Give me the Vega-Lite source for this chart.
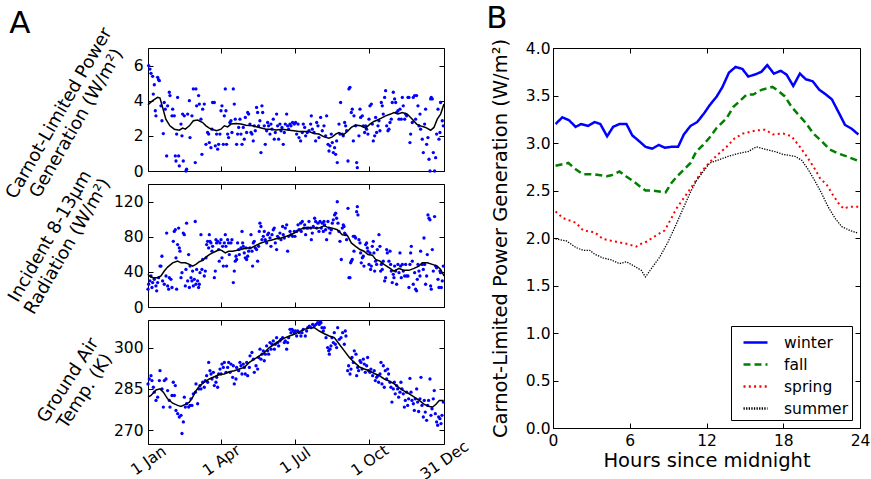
{
"$schema": "https://vega.github.io/schema/vega-lite/v6.json",
"background": "white",
"padding": {"left": 2, "top": 2, "right": 2, "bottom": 2},
"config": {
  "font": "DejaVu Sans",
  "view": {"stroke": "black", "strokeWidth": 1},
  "axis": {"grid": false, "domain": false, "ticks": true, "tickColor": "black", "tickSize": -5, "tickWidth": 1, "labelFont": "DejaVu Sans", "labelFontSize": 15.5, "labelColor": "black", "labelPadding": 10, "labelFlush": false, "labelOverlap": false, "titleFont": "DejaVu Sans", "titleFontWeight": "normal", "titleColor": "black"},
  "title": {"font": "DejaVu Sans", "fontSize": 31, "fontWeight": "normal", "anchor": "start", "frame": "bounds", "color": "black"},
  "legend": {"orient": "bottom-right", "offset": 8, "strokeColor": "black", "fillColor": "white", "padding": 3, "cornerRadius": 0, "labelFont": "DejaVu Sans", "labelFontSize": 15.5, "labelColor": "black", "symbolType": "stroke", "symbolSize": 576, "symbolStrokeWidth": 2.5, "rowPadding": 0, "labelOffset": 15, "symbolOffset": 8}
},
"datasets": {
"cDots": [{"d":0.8,"v":6.0},{"d":2.4,"v":5.8},{"d":3.7,"v":5.56},{"d":5.7,"v":5.39},{"d":6.5,"v":4.38},{"d":7.8,"v":4.91},{"d":9,"v":3.43},{"d":9.8,"v":3.14},{"d":11.9,"v":5.33},{"d":13,"v":5.2},{"d":14,"v":5.14},{"d":16,"v":3.71},{"d":17.2,"v":2.86},{"d":18.9,"v":2.13},{"d":20,"v":3.9},{"d":21.3,"v":3.52},{"d":23,"v":0.86},{"d":24.2,"v":3.71},{"d":26.3,"v":4.48},{"d":27.1,"v":4.29},{"d":29.6,"v":3.14},{"d":30.4,"v":3.52},{"d":32.4,"v":3.14},{"d":33.7,"v":0.86},{"d":34.5,"v":0.57},{"d":35.3,"v":2.1},{"d":36.5,"v":4.19},{"d":37.8,"v":0.86},{"d":38.6,"v":0.29},{"d":40.7,"v":2.67},{"d":41.9,"v":2.0},{"d":42.7,"v":3.24},{"d":43.5,"v":0.57},{"d":44.8,"v":3.14},{"d":46.8,"v":0.0},{"d":47.6,"v":0.1},{"d":48.9,"v":3.24},{"d":51,"v":4.0},{"d":51.8,"v":1.9},{"d":54.2,"v":3.14},{"d":55.9,"v":4.67},{"d":58.3,"v":0.48},{"d":59.1,"v":4.67},{"d":60,"v":3.71},{"d":62.4,"v":4.29},{"d":63.3,"v":3.81},{"d":65.3,"v":2.95},{"d":66.5,"v":0.95},{"d":67.4,"v":3.52},{"d":69.4,"v":3.81},{"d":71.5,"v":1.52},{"d":73.5,"v":2.19},{"d":74.8,"v":2.1},{"d":75.6,"v":1.62},{"d":77.6,"v":1.33},{"d":78.9,"v":2.38},{"d":79.7,"v":3.9},{"d":81.8,"v":3.9},{"d":83,"v":1.43},{"d":84.6,"v":2.1},{"d":85.9,"v":1.24},{"d":87.1,"v":1.52},{"d":88.7,"v":2.1},{"d":90,"v":3.43},{"d":91.2,"v":3.71},{"d":92.9,"v":1.52},{"d":94.1,"v":3.14},{"d":95.3,"v":4.67},{"d":96.1,"v":3.43},{"d":96.9,"v":1.52},{"d":98.2,"v":2.1},{"d":99.4,"v":1.9},{"d":101,"v":2.76},{"d":102.3,"v":2.86},{"d":103.5,"v":2.19},{"d":105.2,"v":4.67},{"d":106.4,"v":3.81},{"d":107.6,"v":2.95},{"d":109.3,"v":1.52},{"d":110.5,"v":2.1},{"d":111.8,"v":2.48},{"d":113.4,"v":2.95},{"d":114.6,"v":2.1},{"d":115.9,"v":1.52},{"d":117.5,"v":2.48},{"d":118.7,"v":1.81},{"d":120,"v":3.05},{"d":121.6,"v":2.19},{"d":122.9,"v":3.33},{"d":124.1,"v":3.24},{"d":125.7,"v":2.67},{"d":127,"v":2.19},{"d":128.2,"v":2.1},{"d":129.8,"v":1.71},{"d":131,"v":2.57},{"d":132.3,"v":2.29},{"d":133.9,"v":3.62},{"d":135.2,"v":3.33},{"d":136.4,"v":2.57},{"d":138,"v":2.86},{"d":139.3,"v":1.05},{"d":140.5,"v":3.71},{"d":141.4,"v":3.33},{"d":143.4,"v":2.57},{"d":144.6,"v":1.52},{"d":146.3,"v":2.29},{"d":147.5,"v":2.76},{"d":148.7,"v":2.57},{"d":150.4,"v":2.1},{"d":151.6,"v":2.67},{"d":152.9,"v":2.38},{"d":154.5,"v":2.95},{"d":155.7,"v":1.81},{"d":157,"v":2.19},{"d":158.6,"v":3.24},{"d":159.8,"v":2.57},{"d":161.1,"v":1.81},{"d":162.7,"v":2.67},{"d":164,"v":2.29},{"d":165.2,"v":2.48},{"d":166.8,"v":1.52},{"d":168.1,"v":2.19},{"d":169.3,"v":2.67},{"d":171,"v":3.24},{"d":172.2,"v":2.57},{"d":173.4,"v":2.38},{"d":175.1,"v":2.67},{"d":176.3,"v":2.57},{"d":178.3,"v":2.76},{"d":180.4,"v":2.67},{"d":182,"v":2.76},{"d":183.3,"v":2.1},{"d":185,"v":2.67},{"d":186.2,"v":1.9},{"d":188.2,"v":1.71},{"d":190.3,"v":2.19},{"d":191.5,"v":2.67},{"d":193.2,"v":2.48},{"d":194.4,"v":2.0},{"d":196.4,"v":2.19},{"d":198.5,"v":2.29},{"d":200.6,"v":2.67},{"d":201.4,"v":3.14},{"d":202.6,"v":2.38},{"d":204.7,"v":2.19},{"d":206.7,"v":1.71},{"d":208,"v":2.76},{"d":209.6,"v":2.57},{"d":210.8,"v":1.9},{"d":212.9,"v":3.05},{"d":214.9,"v":2.29},{"d":217,"v":2.57},{"d":219,"v":2.0},{"d":220.3,"v":3.14},{"d":222,"v":1.52},{"d":223.2,"v":1.14},{"d":224.4,"v":1.43},{"d":226,"v":2.1},{"d":227.3,"v":1.62},{"d":228.5,"v":1.05},{"d":230.1,"v":1.33},{"d":231.4,"v":0.95},{"d":232.6,"v":1.71},{"d":233.4,"v":0.48},{"d":235.5,"v":2.67},{"d":236.7,"v":2.1},{"d":237.5,"v":3.9},{"d":239.6,"v":2.1},{"d":240.8,"v":2.0},{"d":242.5,"v":2.76},{"d":243.7,"v":2.57},{"d":244.9,"v":2.29},{"d":246.6,"v":0.57},{"d":247.8,"v":4.67},{"d":249,"v":4.76},{"d":250.7,"v":3.33},{"d":251.9,"v":3.52},{"d":253.2,"v":1.71},{"d":254,"v":3.14},{"d":256,"v":2.57},{"d":257.3,"v":0.48},{"d":258.1,"v":0.19},{"d":260.1,"v":2.0},{"d":261.4,"v":3.52},{"d":262.2,"v":3.05},{"d":264.3,"v":3.14},{"d":265.5,"v":2.57},{"d":267.1,"v":2.19},{"d":268.4,"v":2.57},{"d":269.6,"v":2.38},{"d":271.2,"v":2.1},{"d":272.5,"v":2.95},{"d":273.7,"v":3.71},{"d":275.4,"v":3.81},{"d":276.6,"v":2.67},{"d":277.8,"v":1.71},{"d":279.5,"v":2.0},{"d":280.7,"v":3.05},{"d":281.9,"v":2.19},{"d":283.6,"v":2.57},{"d":284.8,"v":2.86},{"d":286,"v":2.29},{"d":287.7,"v":3.9},{"d":288.9,"v":3.71},{"d":290.1,"v":3.24},{"d":291.8,"v":4.19},{"d":293,"v":4.57},{"d":294.3,"v":2.57},{"d":295.9,"v":2.29},{"d":297.1,"v":2.38},{"d":298.4,"v":2.76},{"d":300,"v":2.95},{"d":301.2,"v":3.9},{"d":302.5,"v":4.48},{"d":304.1,"v":4.1},{"d":305.4,"v":3.9},{"d":306.6,"v":3.33},{"d":308.2,"v":3.43},{"d":309.5,"v":2.95},{"d":310.7,"v":3.52},{"d":312.3,"v":2.95},{"d":313.6,"v":4.19},{"d":314.8,"v":3.71},{"d":316.5,"v":2.95},{"d":317.7,"v":3.24},{"d":318.9,"v":3.14},{"d":320.6,"v":4.19},{"d":321.8,"v":4.19},{"d":323,"v":1.62},{"d":323.9,"v":2.1},{"d":325.9,"v":2.76},{"d":327.1,"v":4.19},{"d":328.8,"v":4.29},{"d":330,"v":2.95},{"d":331.2,"v":4.29},{"d":332.9,"v":3.71},{"d":334.1,"v":2.57},{"d":335.4,"v":3.24},{"d":336.2,"v":2.38},{"d":338.2,"v":1.81},{"d":339.5,"v":1.05},{"d":341.1,"v":2.67},{"d":342.3,"v":3.52},{"d":343.6,"v":1.52},{"d":345.2,"v":1.9},{"d":346.5,"v":0.67},{"d":347.7,"v":0.0},{"d":348.5,"v":4.1},{"d":349.3,"v":4.19},{"d":350.6,"v":4.1},{"d":351.8,"v":1.05},{"d":353.4,"v":0.0},{"d":354.7,"v":0.76},{"d":355.9,"v":2.1},{"d":357.6,"v":3.52},{"d":358.8,"v":1.81},{"d":360,"v":2.19},{"d":360.8,"v":3.9},{"d":362.9,"v":2.86},{"d":364.1,"v":2.57}],
"cAvg": [{"d":0,"v":3.77},{"d":0.8,"v":3.81},{"d":5.7,"v":4.0},{"d":11.9,"v":4.19},{"d":14.8,"v":4.15},{"d":18,"v":3.62},{"d":22,"v":2.95},{"d":27,"v":2.57},{"d":32.4,"v":2.38},{"d":38.6,"v":2.32},{"d":42.7,"v":2.44},{"d":46,"v":2.38},{"d":51,"v":2.57},{"d":55.9,"v":2.86},{"d":61.2,"v":2.9},{"d":67.4,"v":2.76},{"d":71.5,"v":2.57},{"d":75.6,"v":2.44},{"d":79.7,"v":2.36},{"d":84.6,"v":2.29},{"d":90,"v":2.38},{"d":94.1,"v":2.57},{"d":98.2,"v":2.51},{"d":102.3,"v":2.67},{"d":108.5,"v":2.7},{"d":114.6,"v":2.67},{"d":120.8,"v":2.61},{"d":129,"v":2.57},{"d":137.2,"v":2.48},{"d":145.5,"v":2.38},{"d":151.6,"v":2.38},{"d":157.8,"v":2.34},{"d":166,"v":2.38},{"d":174.2,"v":2.32},{"d":180,"v":2.29},{"d":186.2,"v":2.25},{"d":192.3,"v":2.25},{"d":198.5,"v":2.25},{"d":204.7,"v":2.13},{"d":210.8,"v":2.1},{"d":217,"v":1.94},{"d":223.2,"v":1.87},{"d":227.3,"v":1.94},{"d":231.4,"v":2.1},{"d":235.5,"v":2.19},{"d":240.8,"v":2.06},{"d":245.8,"v":2.25},{"d":250.7,"v":2.48},{"d":256,"v":2.61},{"d":262.2,"v":2.57},{"d":268.4,"v":2.44},{"d":273.7,"v":2.67},{"d":278.6,"v":2.82},{"d":282.8,"v":2.9},{"d":287.7,"v":3.01},{"d":293,"v":3.14},{"d":299.2,"v":3.24},{"d":303.3,"v":3.33},{"d":308.2,"v":3.24},{"d":313.6,"v":3.33},{"d":319.7,"v":3.24},{"d":325.9,"v":2.95},{"d":331.2,"v":2.67},{"d":336.2,"v":2.57},{"d":342.3,"v":2.48},{"d":348.5,"v":2.32},{"d":352.6,"v":2.48},{"d":356.7,"v":2.95},{"d":360.8,"v":3.24},{"d":365,"v":3.81}],
"rDots": [{"d":0,"v":20.3},{"d":0.8,"v":25.9},{"d":2.4,"v":29.7},{"d":3.7,"v":35.3},{"d":4.9,"v":22.2},{"d":5.7,"v":27.8},{"d":7.8,"v":31.5},{"d":9.8,"v":24},{"d":10.7,"v":18.4},{"d":11.9,"v":27.8},{"d":13.1,"v":33.4},{"d":14.8,"v":46.6},{"d":16,"v":46.6},{"d":17.2,"v":57.8},{"d":18,"v":29.7},{"d":20.1,"v":25.9},{"d":22.2,"v":35.3},{"d":23,"v":84.1},{"d":24.2,"v":24},{"d":25.5,"v":20.3},{"d":26.3,"v":33.4},{"d":28.3,"v":31.5},{"d":29.6,"v":22.2},{"d":31.2,"v":74.7},{"d":32.4,"v":86},{"d":33.7,"v":87.9},{"d":34.5,"v":56},{"d":35.3,"v":20.3},{"d":36.5,"v":71},{"d":37.8,"v":89.8},{"d":38.6,"v":67.2},{"d":39.4,"v":63.5},{"d":40.7,"v":33.4},{"d":41.9,"v":39.1},{"d":43.5,"v":84.1},{"d":44.8,"v":82.3},{"d":46,"v":24},{"d":46.8,"v":42.8},{"d":47.6,"v":95.4},{"d":48.9,"v":29.7},{"d":50.1,"v":59.7},{"d":51,"v":22.2},{"d":51.8,"v":46.6},{"d":53,"v":33.4},{"d":54.2,"v":29.7},{"d":55,"v":40.9},{"d":55.9,"v":24},{"d":57.1,"v":31.5},{"d":58.3,"v":97.3},{"d":59.1,"v":25.9},{"d":60,"v":42.8},{"d":61.2,"v":29.7},{"d":62.4,"v":22.2},{"d":63.3,"v":25.9},{"d":64.1,"v":39.1},{"d":65.3,"v":82.3},{"d":66.5,"v":42.8},{"d":67.4,"v":54.1},{"d":69.4,"v":35.3},{"d":70.7,"v":40.9},{"d":71.5,"v":56},{"d":72.3,"v":71},{"d":73.5,"v":74.7},{"d":74.8,"v":67.2},{"d":75.6,"v":82.3},{"d":76.4,"v":74.7},{"d":77.6,"v":72.9},{"d":78.9,"v":63.5},{"d":79.7,"v":69.1},{"d":81.8,"v":33.4},{"d":83,"v":40.9},{"d":83.8,"v":76.6},{"d":84.6,"v":72.9},{"d":85.9,"v":74.7},{"d":87.1,"v":65.4},{"d":87.9,"v":52.2},{"d":88.7,"v":72.9},{"d":90,"v":76.6},{"d":91.2,"v":56},{"d":92,"v":69.1},{"d":92.9,"v":46.6},{"d":94.1,"v":72.9},{"d":95.3,"v":82.3},{"d":96.1,"v":69.1},{"d":96.9,"v":46.6},{"d":98.2,"v":76.6},{"d":99.4,"v":72.9},{"d":100.3,"v":59.7},{"d":102.3,"v":72.9},{"d":103.5,"v":76.6},{"d":105.2,"v":27.8},{"d":106.4,"v":40.9},{"d":107.6,"v":52.2},{"d":108.5,"v":57.8},{"d":109.3,"v":54.1},{"d":110.5,"v":72.9},{"d":111.8,"v":65.4},{"d":112.6,"v":59.7},{"d":114.6,"v":67.2},{"d":115.9,"v":86},{"d":116.7,"v":72.9},{"d":117.5,"v":69.1},{"d":118.7,"v":61.6},{"d":120,"v":56},{"d":120.8,"v":67.2},{"d":121.6,"v":54.1},{"d":122.9,"v":57.8},{"d":124.1,"v":63.5},{"d":125.7,"v":67.2},{"d":127,"v":82.3},{"d":128.2,"v":63.5},{"d":129,"v":46.6},{"d":129.8,"v":72.9},{"d":131,"v":74.7},{"d":132.3,"v":67.2},{"d":133.9,"v":65.4},{"d":135.2,"v":52.2},{"d":136.4,"v":69.1},{"d":137.2,"v":86},{"d":138,"v":95.4},{"d":139.3,"v":91.6},{"d":140.5,"v":76.6},{"d":142.2,"v":80.4},{"d":143.4,"v":86},{"d":144.6,"v":76.6},{"d":146.3,"v":72.9},{"d":147.5,"v":82.3},{"d":148.7,"v":84.1},{"d":150.4,"v":78.5},{"d":151.6,"v":69.1},{"d":152.9,"v":82.3},{"d":154.5,"v":87.9},{"d":155.7,"v":89.8},{"d":157,"v":72.9},{"d":158.6,"v":65.4},{"d":159.8,"v":80.4},{"d":161.1,"v":78.5},{"d":162.7,"v":84.1},{"d":164,"v":76.6},{"d":166,"v":91.6},{"d":166.8,"v":82.3},{"d":168.1,"v":78.5},{"d":169.3,"v":89.8},{"d":171,"v":93.5},{"d":172.2,"v":63.5},{"d":173.4,"v":80.4},{"d":175.1,"v":86},{"d":176.3,"v":82.3},{"d":178.3,"v":80.4},{"d":180.4,"v":86},{"d":181.2,"v":80.4},{"d":183.3,"v":86},{"d":185,"v":93.5},{"d":186.2,"v":87.9},{"d":188.2,"v":95.4},{"d":189,"v":86},{"d":190.3,"v":97.3},{"d":192.3,"v":89.8},{"d":193.2,"v":93.5},{"d":194.4,"v":82.3},{"d":195.6,"v":89.8},{"d":197.3,"v":89.8},{"d":198.5,"v":97.3},{"d":200.6,"v":89.8},{"d":201.4,"v":76.6},{"d":202.6,"v":84.1},{"d":203.8,"v":91.6},{"d":205.5,"v":101},{"d":206.7,"v":97.3},{"d":208,"v":89.8},{"d":209.6,"v":95.4},{"d":210.8,"v":86},{"d":212.1,"v":97.3},{"d":213.7,"v":89.8},{"d":214.9,"v":95.4},{"d":216.2,"v":86},{"d":217,"v":97.3},{"d":217.8,"v":93.5},{"d":219,"v":87.9},{"d":220.3,"v":76.6},{"d":221.9,"v":97.3},{"d":223.2,"v":89.8},{"d":224.4,"v":84.1},{"d":226,"v":87.9},{"d":227.3,"v":95.4},{"d":228.5,"v":99.2},{"d":230.1,"v":104.8},{"d":231.4,"v":106.7},{"d":232.6,"v":101},{"d":233.4,"v":119.8},{"d":234.3,"v":95.4},{"d":235.5,"v":86},{"d":236.7,"v":74.7},{"d":238.4,"v":54.1},{"d":239.6,"v":89.8},{"d":240.8,"v":93.5},{"d":241.7,"v":91.6},{"d":242.5,"v":84.1},{"d":243.7,"v":82.3},{"d":244.9,"v":76.6},{"d":246.6,"v":112.3},{"d":247.8,"v":33.4},{"d":249,"v":33.4},{"d":249.9,"v":50.3},{"d":250.7,"v":52.2},{"d":251.9,"v":54.1},{"d":253.2,"v":80.4},{"d":254,"v":63.5},{"d":254.8,"v":80.4},{"d":256,"v":78.5},{"d":257.3,"v":108.5},{"d":258.1,"v":114.2},{"d":258.9,"v":104.8},{"d":260.1,"v":76.6},{"d":261.4,"v":72.9},{"d":262.2,"v":61.6},{"d":263,"v":50.3},{"d":264.3,"v":56},{"d":265.5,"v":57.8},{"d":266.3,"v":46.6},{"d":268.4,"v":71},{"d":269.6,"v":72.9},{"d":270.4,"v":67.2},{"d":271.2,"v":63.5},{"d":272.5,"v":48.5},{"d":273.7,"v":61.6},{"d":274.5,"v":42.8},{"d":275.4,"v":46.6},{"d":276.6,"v":69.1},{"d":277.8,"v":74.7},{"d":278.6,"v":61.6},{"d":279.5,"v":40.9},{"d":280.7,"v":52.2},{"d":281.9,"v":48.5},{"d":282.8,"v":65.4},{"d":284.8,"v":82.3},{"d":286,"v":69.1},{"d":286.9,"v":40.9},{"d":287.7,"v":48.5},{"d":288.9,"v":42.8},{"d":290.1,"v":52.2},{"d":291.8,"v":29.7},{"d":293,"v":33.4},{"d":294.3,"v":65.4},{"d":295.1,"v":61.6},{"d":297.1,"v":52.2},{"d":298.4,"v":63.5},{"d":299.2,"v":48.5},{"d":300,"v":40.9},{"d":301.2,"v":27.8},{"d":302.5,"v":37.2},{"d":303.3,"v":33.4},{"d":304.1,"v":46.6},{"d":305.4,"v":40.9},{"d":306.6,"v":25.9},{"d":308.2,"v":48.5},{"d":309.5,"v":39.1},{"d":310.7,"v":61.6},{"d":311.5,"v":46.6},{"d":312.3,"v":33.4},{"d":313.6,"v":48.5},{"d":314.8,"v":40.9},{"d":316.5,"v":35.3},{"d":317.7,"v":48.5},{"d":318.9,"v":35.3},{"d":320.6,"v":35.3},{"d":321.8,"v":22.2},{"d":323,"v":48.5},{"d":323.9,"v":61.6},{"d":324.7,"v":69.1},{"d":325.9,"v":52.2},{"d":327.1,"v":25.9},{"d":328.8,"v":39.1},{"d":330,"v":20.3},{"d":331.2,"v":18.4},{"d":332.1,"v":31.5},{"d":332.9,"v":48.5},{"d":334.1,"v":40.9},{"d":335.4,"v":35.3},{"d":336.2,"v":63.5},{"d":338.2,"v":48.5},{"d":339.5,"v":42.8},{"d":340.3,"v":78.5},{"d":341.1,"v":48.5},{"d":342.3,"v":25.9},{"d":343.6,"v":35.3},{"d":344.4,"v":59.7},{"d":345.2,"v":104.8},{"d":346.5,"v":101},{"d":347.7,"v":99.2},{"d":348.5,"v":24},{"d":349.3,"v":20.3},{"d":350.6,"v":65.4},{"d":351.8,"v":40.9},{"d":353.4,"v":102.9},{"d":354.7,"v":46.6},{"d":355.9,"v":44.7},{"d":357.6,"v":31.5},{"d":358.8,"v":22.2},{"d":360,"v":40.9},{"d":360.8,"v":39.1},{"d":361.7,"v":22.2},{"d":362.9,"v":29.7},{"d":364.1,"v":46.6}],
"rAvg": [{"d":0,"v":37.2},{"d":1.6,"v":35.3},{"d":5.7,"v":33.4},{"d":11.9,"v":33.4},{"d":16,"v":35.3},{"d":20.1,"v":40.9},{"d":24.2,"v":45.4},{"d":30.4,"v":50.3},{"d":36.5,"v":52.2},{"d":40.7,"v":50.3},{"d":46,"v":50.3},{"d":51,"v":48.5},{"d":55,"v":46.6},{"d":59.1,"v":48.5},{"d":63.3,"v":51.5},{"d":67.4,"v":53},{"d":71.5,"v":56.7},{"d":75.6,"v":59.7},{"d":79.7,"v":61.6},{"d":83.8,"v":63.5},{"d":87.9,"v":65.4},{"d":91.2,"v":64.2},{"d":95.3,"v":61.6},{"d":99.4,"v":63.5},{"d":104.4,"v":63.5},{"d":108.5,"v":64.2},{"d":114.6,"v":65.4},{"d":120.8,"v":67.2},{"d":127,"v":67.2},{"d":133.1,"v":70.2},{"d":139.3,"v":72.9},{"d":145.5,"v":74.7},{"d":151.6,"v":75.9},{"d":157.8,"v":77.7},{"d":164,"v":78.5},{"d":170.1,"v":80.4},{"d":176.3,"v":82.3},{"d":182.5,"v":85.3},{"d":186.2,"v":87.9},{"d":192.3,"v":89.8},{"d":198.5,"v":90.5},{"d":204.7,"v":89.8},{"d":210.8,"v":89.8},{"d":217,"v":92.4},{"d":221.1,"v":90.9},{"d":227.3,"v":89.8},{"d":233.4,"v":87.9},{"d":239.6,"v":82.3},{"d":245.8,"v":81.5},{"d":250.7,"v":72.9},{"d":256,"v":69.1},{"d":261.4,"v":65.4},{"d":266.3,"v":63.5},{"d":271.2,"v":59.7},{"d":276.6,"v":59},{"d":280.7,"v":54.1},{"d":286,"v":52.2},{"d":291,"v":48.5},{"d":297.1,"v":44.7},{"d":303.3,"v":40.9},{"d":309.5,"v":43.9},{"d":315.6,"v":41.7},{"d":321.8,"v":41.7},{"d":328,"v":43.9},{"d":334.1,"v":46.6},{"d":338.2,"v":50.3},{"d":344.4,"v":50.3},{"d":350.6,"v":48.5},{"d":356.7,"v":46.6},{"d":360.8,"v":42.8},{"d":365,"v":35.3}],
"tDots": [{"d":0,"v":286.8},{"d":1.6,"v":288.6},{"d":3.7,"v":289.8},{"d":4.9,"v":288},{"d":6.6,"v":285.6},{"d":7.8,"v":283.8},{"d":9.9,"v":280.8},{"d":11.9,"v":282},{"d":14,"v":288},{"d":14.8,"v":291.6},{"d":17.3,"v":285},{"d":18.9,"v":278.4},{"d":20.1,"v":288},{"d":22.2,"v":288.6},{"d":24.2,"v":284.4},{"d":26.3,"v":280.8},{"d":27.1,"v":278.4},{"d":29.6,"v":282.6},{"d":31.2,"v":287.4},{"d":32.5,"v":282.6},{"d":33.7,"v":286.2},{"d":34.5,"v":277.2},{"d":36.6,"v":276},{"d":38.6,"v":274.8},{"d":40.7,"v":275.4},{"d":41.9,"v":268.8},{"d":43.6,"v":273},{"d":44.8,"v":282},{"d":46,"v":278.4},{"d":47.7,"v":279.6},{"d":50.1,"v":278.4},{"d":51.8,"v":279},{"d":53,"v":281.4},{"d":54.2,"v":279},{"d":55.9,"v":283.2},{"d":58.4,"v":283.8},{"d":59.2,"v":286.8},{"d":61.2,"v":279.6},{"d":62.5,"v":285},{"d":64.1,"v":286.2},{"d":65.3,"v":285},{"d":67.4,"v":287.4},{"d":69.4,"v":285.6},{"d":70.7,"v":288},{"d":72.3,"v":289.8},{"d":73.6,"v":287.4},{"d":74.8,"v":294.6},{"d":76.4,"v":291.6},{"d":77.7,"v":290.4},{"d":78.9,"v":288.6},{"d":80.6,"v":291},{"d":81.8,"v":286.2},{"d":83.8,"v":287.4},{"d":84.7,"v":289.2},{"d":85.9,"v":285.6},{"d":87.1,"v":290.4},{"d":88.8,"v":292.2},{"d":90,"v":290.4},{"d":91.2,"v":294},{"d":92.9,"v":292.8},{"d":94.1,"v":294.6},{"d":96.2,"v":291},{"d":98.2,"v":292.8},{"d":99.5,"v":294.6},{"d":101.1,"v":291},{"d":102.3,"v":294},{"d":104.4,"v":289.2},{"d":105.2,"v":293.4},{"d":106.4,"v":286.8},{"d":108.5,"v":288.6},{"d":109.3,"v":292.8},{"d":111.8,"v":291.6},{"d":113.4,"v":294.6},{"d":114.7,"v":293.4},{"d":115.9,"v":290.4},{"d":117.5,"v":294},{"d":118.8,"v":292.8},{"d":120,"v":290.4},{"d":121.7,"v":294.6},{"d":122.9,"v":289.8},{"d":125,"v":292.8},{"d":125.8,"v":297},{"d":128.2,"v":298.2},{"d":129.9,"v":295.8},{"d":131.1,"v":291},{"d":133.2,"v":293.4},{"d":135.2,"v":292.2},{"d":136.4,"v":296.4},{"d":138.1,"v":299.4},{"d":139.3,"v":295.8},{"d":140.6,"v":297.6},{"d":142.2,"v":298.8},{"d":143.4,"v":295.2},{"d":144.7,"v":297.6},{"d":146.3,"v":300.6},{"d":147.5,"v":298.8},{"d":148.8,"v":297.6},{"d":150.4,"v":301.8},{"d":151.7,"v":299.4},{"d":152.9,"v":301.2},{"d":154.5,"v":302.4},{"d":155.8,"v":299.4},{"d":157,"v":301.2},{"d":158.6,"v":303.6},{"d":159.9,"v":301.8},{"d":161.1,"v":300.6},{"d":162.7,"v":302.4},{"d":164,"v":303},{"d":166,"v":303.6},{"d":168.1,"v":301.8},{"d":169.3,"v":302.4},{"d":171,"v":299.4},{"d":172.2,"v":301.8},{"d":173.4,"v":303.6},{"d":175.1,"v":306.6},{"d":176.3,"v":305.4},{"d":177.6,"v":306.6},{"d":179.2,"v":306},{"d":180.4,"v":305.4},{"d":181.7,"v":306},{"d":183.3,"v":304.2},{"d":184.5,"v":306},{"d":186.6,"v":305.4},{"d":188.6,"v":304.2},{"d":189.9,"v":305.4},{"d":191.5,"v":306.6},{"d":194,"v":304.2},{"d":195.6,"v":306},{"d":196.9,"v":307.2},{"d":198.9,"v":307.8},{"d":201,"v":307.2},{"d":203,"v":308.4},{"d":205.1,"v":307.8},{"d":207.1,"v":308.4},{"d":209.2,"v":309},{"d":211.2,"v":308.4},{"d":212.1,"v":309.4},{"d":213.3,"v":309},{"d":214.5,"v":307.2},{"d":216.2,"v":306},{"d":217.4,"v":307.2},{"d":219.5,"v":303.6},{"d":221.5,"v":300},{"d":222.8,"v":298.8},{"d":223.6,"v":297.6},{"d":224.4,"v":299.4},{"d":225.6,"v":300.6},{"d":226.9,"v":303.6},{"d":228.5,"v":301.8},{"d":229.7,"v":305.4},{"d":231,"v":301.2},{"d":232.6,"v":300},{"d":233.9,"v":307.2},{"d":235.9,"v":303},{"d":238,"v":303.6},{"d":240,"v":305.4},{"d":242.1,"v":301.2},{"d":243.3,"v":306},{"d":244.1,"v":304.2},{"d":246.2,"v":291.6},{"d":247.4,"v":293.4},{"d":249.1,"v":290.4},{"d":250.3,"v":292.2},{"d":251.5,"v":296.4},{"d":253.2,"v":294.6},{"d":254.4,"v":298.8},{"d":256.5,"v":297.6},{"d":257.3,"v":289.8},{"d":258.5,"v":292.8},{"d":259.7,"v":291.6},{"d":261.4,"v":295.2},{"d":262.6,"v":294.6},{"d":263.9,"v":292.2},{"d":265.5,"v":295.8},{"d":266.7,"v":294},{"d":268,"v":291},{"d":269.6,"v":293.4},{"d":270.8,"v":296.4},{"d":272.1,"v":291.6},{"d":273.7,"v":291},{"d":274.9,"v":292.2},{"d":277,"v":289.8},{"d":279,"v":291.6},{"d":280.3,"v":288},{"d":281.9,"v":289.2},{"d":283.2,"v":289.8},{"d":284.4,"v":287.4},{"d":286.1,"v":290.4},{"d":287.3,"v":294.6},{"d":288.5,"v":286.8},{"d":290.2,"v":293.4},{"d":291.4,"v":285.6},{"d":292.6,"v":291.6},{"d":294.3,"v":288.6},{"d":295.5,"v":292.2},{"d":296.7,"v":290.4},{"d":298.4,"v":287.4},{"d":299.6,"v":285.6},{"d":300.8,"v":280.2},{"d":302.5,"v":285},{"d":303.7,"v":287.4},{"d":304.9,"v":283.2},{"d":306.6,"v":286.2},{"d":307.8,"v":285},{"d":309.1,"v":282},{"d":310.7,"v":283.8},{"d":311.9,"v":287.4},{"d":313.2,"v":285},{"d":314.8,"v":283.2},{"d":316.1,"v":278.4},{"d":317.3,"v":280.8},{"d":318.9,"v":283.8},{"d":320.2,"v":279},{"d":321.4,"v":281.4},{"d":323,"v":288.8},{"d":324.3,"v":283.8},{"d":325.5,"v":280.8},{"d":327.2,"v":279.6},{"d":328.4,"v":277.2},{"d":329.6,"v":281.4},{"d":331.3,"v":285},{"d":332.5,"v":280.2},{"d":333.7,"v":276.8},{"d":335.4,"v":281.4},{"d":336.6,"v":289.2},{"d":337.8,"v":279},{"d":339.5,"v":274.8},{"d":340.7,"v":280.8},{"d":341.9,"v":276.6},{"d":343.6,"v":273.6},{"d":344.8,"v":279},{"d":346,"v":280.8},{"d":347.7,"v":288.6},{"d":348.9,"v":275.4},{"d":350.2,"v":277.8},{"d":351.8,"v":281.4},{"d":353,"v":284.4},{"d":354.3,"v":276},{"d":355.9,"v":273},{"d":357.2,"v":271.8},{"d":358.4,"v":274.8},{"d":360,"v":274.2},{"d":361.3,"v":272.4},{"d":362.5,"v":275.4},{"d":364.1,"v":280.2}],
"tAvg": [{"d":0,"v":282},{"d":3.7,"v":282.6},{"d":9.9,"v":284.6},{"d":14.8,"v":285},{"d":18.9,"v":283.8},{"d":24.2,"v":281.4},{"d":30.4,"v":279.8},{"d":36.6,"v":279},{"d":40.7,"v":278.6},{"d":46,"v":279.4},{"d":51,"v":280.2},{"d":55.1,"v":282},{"d":59.2,"v":284.4},{"d":64.1,"v":286.2},{"d":69.4,"v":287.4},{"d":75.6,"v":288.6},{"d":81.8,"v":289.4},{"d":87.9,"v":290.2},{"d":94.1,"v":290.4},{"d":100.3,"v":291.2},{"d":106.4,"v":291.6},{"d":112.6,"v":292.2},{"d":118.8,"v":292.8},{"d":125,"v":294.6},{"d":131.1,"v":295.8},{"d":137.3,"v":297},{"d":143.4,"v":298.2},{"d":149.6,"v":300},{"d":155.8,"v":301.2},{"d":161.9,"v":302.4},{"d":168.1,"v":303.4},{"d":174.3,"v":304.2},{"d":180.4,"v":304.8},{"d":186.6,"v":305.8},{"d":192.8,"v":306.6},{"d":198.9,"v":307.2},{"d":205.1,"v":307.2},{"d":211.2,"v":306},{"d":217.4,"v":305},{"d":223.6,"v":304.2},{"d":229.7,"v":303.6},{"d":235.9,"v":301.2},{"d":242.1,"v":298.8},{"d":248.3,"v":296.4},{"d":254.4,"v":294.6},{"d":260.6,"v":293},{"d":266.7,"v":292.2},{"d":272.9,"v":291.6},{"d":279.1,"v":290.6},{"d":285.2,"v":289.8},{"d":291.4,"v":288.6},{"d":297.5,"v":287.8},{"d":303.7,"v":286.8},{"d":309.9,"v":285.4},{"d":316.1,"v":284.2},{"d":322.2,"v":283.2},{"d":328.4,"v":282},{"d":334.5,"v":280.8},{"d":340.7,"v":279.4},{"d":346.9,"v":278.6},{"d":351,"v":278.4},{"d":355.1,"v":279.4},{"d":359.2,"v":280.8},{"d":364.5,"v":280.8}],
"daily": [{"s":"winter","h":0.2,"v":3.2},{"s":"winter","h":0.73,"v":3.27},{"s":"winter","h":1.25,"v":3.24},{"s":"winter","h":1.77,"v":3.17},{"s":"winter","h":2.2,"v":3.2},{"s":"winter","h":2.74,"v":3.18},{"s":"winter","h":3.26,"v":3.22},{"s":"winter","h":3.7,"v":3.2},{"s":"winter","h":4.23,"v":3.07},{"s":"winter","h":4.7,"v":3.17},{"s":"winter","h":5.2,"v":3.2},{"s":"winter","h":5.74,"v":3.2},{"s":"winter","h":6.2,"v":3.08},{"s":"winter","h":6.73,"v":3.02},{"s":"winter","h":7.23,"v":2.96},{"s":"winter","h":7.75,"v":2.94},{"s":"winter","h":8.27,"v":2.98},{"s":"winter","h":8.74,"v":2.95},{"s":"winter","h":9.26,"v":2.96},{"s":"winter","h":9.78,"v":2.96},{"s":"winter","h":10.23,"v":3.09},{"s":"winter","h":10.75,"v":3.18},{"s":"winter","h":11.27,"v":3.22},{"s":"winter","h":11.8,"v":3.31},{"s":"winter","h":12.26,"v":3.4},{"s":"winter","h":12.8,"v":3.49},{"s":"winter","h":13.25,"v":3.59},{"s":"winter","h":13.75,"v":3.74},{"s":"winter","h":14.27,"v":3.8},{"s":"winter","h":14.8,"v":3.78},{"s":"winter","h":15.26,"v":3.7},{"s":"winter","h":15.78,"v":3.72},{"s":"winter","h":16.3,"v":3.75},{"s":"winter","h":16.75,"v":3.82},{"s":"winter","h":17.27,"v":3.73},{"s":"winter","h":17.8,"v":3.76},{"s":"winter","h":18.26,"v":3.72},{"s":"winter","h":18.78,"v":3.6},{"s":"winter","h":19.3,"v":3.73},{"s":"winter","h":19.77,"v":3.67},{"s":"winter","h":20.3,"v":3.65},{"s":"winter","h":20.82,"v":3.56},{"s":"winter","h":21.34,"v":3.51},{"s":"winter","h":21.8,"v":3.46},{"s":"winter","h":22.3,"v":3.33},{"s":"winter","h":22.83,"v":3.19},{"s":"winter","h":23.35,"v":3.15},{"s":"winter","h":23.87,"v":3.09},
{"s":"fall","h":0.2,"v":2.76},{"s":"fall","h":1.2,"v":2.79},{"s":"fall","h":1.8,"v":2.72},{"s":"fall","h":2.35,"v":2.67},{"s":"fall","h":3.26,"v":2.67},{"s":"fall","h":4.2,"v":2.65},{"s":"fall","h":4.56,"v":2.66},{"s":"fall","h":5.2,"v":2.7},{"s":"fall","h":5.7,"v":2.65},{"s":"fall","h":6.26,"v":2.6},{"s":"fall","h":6.73,"v":2.55},{"s":"fall","h":7.23,"v":2.5},{"s":"fall","h":7.8,"v":2.5},{"s":"fall","h":8.8,"v":2.48},{"s":"fall","h":9.26,"v":2.58},{"s":"fall","h":9.78,"v":2.66},{"s":"fall","h":10.3,"v":2.73},{"s":"fall","h":10.75,"v":2.79},{"s":"fall","h":11.2,"v":2.91},{"s":"fall","h":11.74,"v":2.98},{"s":"fall","h":12.26,"v":3.06},{"s":"fall","h":12.8,"v":3.16},{"s":"fall","h":13.57,"v":3.26},{"s":"fall","h":14.1,"v":3.38},{"s":"fall","h":14.6,"v":3.44},{"s":"fall","h":15.13,"v":3.51},{"s":"fall","h":15.65,"v":3.51},{"s":"fall","h":16.3,"v":3.56},{"s":"fall","h":17.16,"v":3.59},{"s":"fall","h":17.6,"v":3.55},{"s":"fall","h":18.13,"v":3.49},{"s":"fall","h":18.65,"v":3.38},{"s":"fall","h":19.17,"v":3.3},{"s":"fall","h":19.77,"v":3.21},{"s":"fall","h":20.35,"v":3.1},{"s":"fall","h":21.0,"v":3.02},{"s":"fall","h":21.65,"v":2.93},{"s":"fall","h":22.3,"v":2.89},{"s":"fall","h":22.96,"v":2.86},{"s":"fall","h":23.87,"v":2.81},
{"s":"spring","h":0.2,"v":2.28},{"s":"spring","h":0.78,"v":2.21},{"s":"spring","h":1.8,"v":2.16},{"s":"spring","h":2.35,"v":2.08},{"s":"spring","h":3.26,"v":2.06},{"s":"spring","h":3.9,"v":1.99},{"s":"spring","h":4.56,"v":1.97},{"s":"spring","h":4.95,"v":1.96},{"s":"spring","h":5.74,"v":1.94},{"s":"spring","h":6.5,"v":1.91},{"s":"spring","h":6.9,"v":1.94},{"s":"spring","h":7.3,"v":1.96},{"s":"spring","h":8.1,"v":2.03},{"s":"spring","h":8.74,"v":2.08},{"s":"spring","h":9.26,"v":2.21},{"s":"spring","h":9.65,"v":2.31},{"s":"spring","h":10.17,"v":2.41},{"s":"spring","h":10.7,"v":2.51},{"s":"spring","h":11.2,"v":2.61},{"s":"spring","h":11.74,"v":2.72},{"s":"spring","h":12.26,"v":2.8},{"s":"spring","h":12.9,"v":2.88},{"s":"spring","h":13.57,"v":2.96},{"s":"spring","h":14.2,"v":3.05},{"s":"spring","h":14.87,"v":3.1},{"s":"spring","h":15.78,"v":3.13},{"s":"spring","h":16.57,"v":3.14},{"s":"spring","h":17.2,"v":3.09},{"s":"spring","h":18.0,"v":3.1},{"s":"spring","h":18.65,"v":3.07},{"s":"spring","h":19.3,"v":2.96},{"s":"spring","h":19.83,"v":2.86},{"s":"spring","h":20.5,"v":2.72},{"s":"spring","h":20.87,"v":2.63},{"s":"spring","h":21.4,"v":2.56},{"s":"spring","h":21.9,"v":2.45},{"s":"spring","h":22.3,"v":2.37},{"s":"spring","h":22.7,"v":2.31},{"s":"spring","h":23.2,"v":2.33},{"s":"spring","h":23.87,"v":2.33},
{"s":"summer","h":0.2,"v":1.99},{"s":"summer","h":1.04,"v":1.97},{"s":"summer","h":1.8,"v":1.9},{"s":"summer","h":2.35,"v":1.87},{"s":"summer","h":2.87,"v":1.87},{"s":"summer","h":3.26,"v":1.83},{"s":"summer","h":3.9,"v":1.79},{"s":"summer","h":4.56,"v":1.77},{"s":"summer","h":5.2,"v":1.73},{"s":"summer","h":5.74,"v":1.75},{"s":"summer","h":6.4,"v":1.7},{"s":"summer","h":6.9,"v":1.66},{"s":"summer","h":7.23,"v":1.59},{"s":"summer","h":7.7,"v":1.68},{"s":"summer","h":8.35,"v":1.8},{"s":"summer","h":9.0,"v":1.96},{"s":"summer","h":9.65,"v":2.15},{"s":"summer","h":10.17,"v":2.31},{"s":"summer","h":10.7,"v":2.47},{"s":"summer","h":11.2,"v":2.6},{"s":"summer","h":11.74,"v":2.7},{"s":"summer","h":12.26,"v":2.79},{"s":"summer","h":12.9,"v":2.82},{"s":"summer","h":13.7,"v":2.86},{"s":"summer","h":14.5,"v":2.89},{"s":"summer","h":15.26,"v":2.91},{"s":"summer","h":15.9,"v":2.96},{"s":"summer","h":16.7,"v":2.93},{"s":"summer","h":17.35,"v":2.91},{"s":"summer","h":18.0,"v":2.88},{"s":"summer","h":18.9,"v":2.86},{"s":"summer","h":19.43,"v":2.82},{"s":"summer","h":19.96,"v":2.72},{"s":"summer","h":20.48,"v":2.6},{"s":"summer","h":21.0,"v":2.47},{"s":"summer","h":21.5,"v":2.33},{"s":"summer","h":22.04,"v":2.21},{"s":"summer","h":22.57,"v":2.12},{"s":"summer","h":23.2,"v":2.08},{"s":"summer","h":23.87,"v":2.05}]
},
"spacing": 13,
"resolve": {"legend": {"color": "independent", "strokeDash": "independent"}},
"hconcat": [
 {
  "title": {"text": "A", "offset": -16, "dx": 7},
  "bounds": "flush",
  "spacing": 13,
  "vconcat": [
   {
    "width": 296, "height": 123,
    "layer": [
     {"data": {"name": "cDots"}, "mark": {"type": "circle", "size": 11, "color": "#0000ff", "opacity": 1},
      "encoding": {
       "x": {"field": "d", "type": "quantitative", "scale": {"domain": [0, 365], "nice": false}, "axis": {"values": [0, 90, 181, 273, 365], "labels": false, "title": null}},
       "y": {"field": "v", "type": "quantitative", "scale": {"domain": [0, 7], "nice": false}, "axis": {"values": [0, 2, 4, 6], "title": ["Carnot-Limited Power", "Generation (W/m²)"], "titleAngle": -60, "titleAlign": "center", "titleBaseline": "middle", "titleFontSize": 18, "titleLineHeight": 20, "titleX": -89, "titleY": 65}}}},
     {"data": {"name": "cAvg"}, "mark": {"type": "line", "color": "black", "strokeWidth": 1.5},
      "encoding": {
       "x": {"field": "d", "type": "quantitative", "scale": {"domain": [0, 365], "nice": false}, "axis": {"orient": "top", "values": [0, 90, 181, 273, 365], "labels": false, "title": null}},
       "y": {"field": "v", "type": "quantitative", "scale": {"domain": [0, 7], "nice": false}, "axis": {"orient": "right", "values": [0, 2, 4, 6], "labels": false, "title": null}}}}
    ],
    "resolve": {"axis": {"x": "independent", "y": "independent"}}
   },
   {
    "width": 296, "height": 123,
    "layer": [
     {"data": {"name": "rDots"}, "mark": {"type": "circle", "size": 11, "color": "#0000ff", "opacity": 1},
      "encoding": {
       "x": {"field": "d", "type": "quantitative", "scale": {"domain": [0, 365], "nice": false}, "axis": {"values": [0, 90, 181, 273, 365], "labels": false, "title": null}},
       "y": {"field": "v", "type": "quantitative", "scale": {"domain": [0, 140], "nice": false}, "axis": {"values": [0, 40, 80, 120], "title": ["Incident 8-13μm", "Radiation (W/m²)"], "titleAngle": -60, "titleAlign": "center", "titleBaseline": "middle", "titleFontSize": 18, "titleLineHeight": 20, "titleX": -98, "titleY": 52}}}},
     {"data": {"name": "rAvg"}, "mark": {"type": "line", "color": "black", "strokeWidth": 1.5},
      "encoding": {
       "x": {"field": "d", "type": "quantitative", "scale": {"domain": [0, 365], "nice": false}, "axis": {"orient": "top", "values": [0, 90, 181, 273, 365], "labels": false, "title": null}},
       "y": {"field": "v", "type": "quantitative", "scale": {"domain": [0, 140], "nice": false}, "axis": {"orient": "right", "values": [0, 40, 80, 120], "labels": false, "title": null}}}}
    ],
    "resolve": {"axis": {"x": "independent", "y": "independent"}}
   },
   {
    "width": 296, "height": 124,
    "layer": [
     {"data": {"name": "tDots"}, "mark": {"type": "circle", "size": 11, "color": "#0000ff", "opacity": 1},
      "encoding": {
       "x": {"field": "d", "type": "quantitative", "scale": {"domain": [0, 365], "nice": false}, "axis": {"values": [0, 90, 181, 273, 365], "labelExpr": "datum.value == 0 ? '1 Jan' : datum.value == 90 ? '1 Apr' : datum.value == 181 ? '1 Jul' : datum.value == 273 ? '1 Oct' : '31 Dec'", "labelAngle": -35, "labelAlign": "center", "labelBaseline": "middle", "labelPadding": 21, "title": null}},
       "y": {"field": "v", "type": "quantitative", "scale": {"domain": [265, 310], "nice": false, "zero": false}, "axis": {"values": [270, 285, 300], "title": ["Ground Air", "Temp. (K)"], "titleAngle": -57, "titleAlign": "center", "titleBaseline": "middle", "titleFontSize": 18, "titleLineHeight": 20, "titleX": -80, "titleY": 60}}}},
     {"data": {"name": "tAvg"}, "mark": {"type": "line", "color": "black", "strokeWidth": 1.5},
      "encoding": {
       "x": {"field": "d", "type": "quantitative", "scale": {"domain": [0, 365], "nice": false}, "axis": {"orient": "top", "values": [0, 90, 181, 273, 365], "labels": false, "title": null}},
       "y": {"field": "v", "type": "quantitative", "scale": {"domain": [265, 310], "nice": false, "zero": false}, "axis": {"orient": "right", "values": [270, 285, 300], "labels": false, "title": null}}}}
    ],
    "resolve": {"axis": {"x": "independent", "y": "independent"}}
   }
  ]
 },
 {
  "title": {"text": "B", "offset": 3, "dx": -4},
  "width": 307, "height": 380,
  "data": {"name": "daily"},
  "layer": [
   {"mark": {"type": "line", "strokeCap": "butt"},
    "encoding": {
     "x": {"field": "h", "type": "quantitative", "scale": {"domain": [0, 24], "nice": false}, "axis": {"values": [0, 6, 12, 18, 24], "title": "Hours since midnight", "titleFontSize": 19.5, "titlePadding": 3}},
     "y": {"field": "v", "type": "quantitative", "scale": {"domain": [0, 4], "nice": false}, "axis": {"values": [0, 0.5, 1, 1.5, 2, 2.5, 3, 3.5, 4], "format": ".1f", "labelPadding": 8, "title": "Carnot-Limited Power Generation (W/m²)", "titleFontSize": 19.5, "titlePadding": 15}},
     "color": {"field": "s", "type": "nominal", "scale": {"domain": ["winter", "fall", "spring", "summer"], "range": ["#0000ff", "#008000", "#ff0000", "#000000"]}, "legend": {"title": null}},
     "strokeDash": {"field": "s", "type": "nominal", "scale": {"domain": ["winter", "fall", "spring", "summer"], "range": [[1, 0], [7, 4], [2, 3.3], [1.3, 1.3]]}, "legend": {"title": null}},
     "strokeWidth": {"field": "s", "type": "nominal", "scale": {"type": "ordinal", "domain": ["winter", "fall", "spring", "summer"], "range": [2.5, 2.5, 2, 1.3]}, "legend": null}
    }},
   {"mark": {"type": "line", "opacity": 0},
    "encoding": {
     "x": {"field": "h", "type": "quantitative", "scale": {"domain": [0, 24], "nice": false}, "axis": {"orient": "top", "values": [0, 6, 12, 18, 24], "labels": false, "title": null}},
     "y": {"field": "v", "type": "quantitative", "scale": {"domain": [0, 4], "nice": false}, "axis": {"orient": "right", "values": [0, 0.5, 1, 1.5, 2, 2.5, 3, 3.5, 4], "labels": false, "title": null}},
     "detail": {"field": "s", "type": "nominal"}
    }}
  ],
  "resolve": {"axis": {"x": "independent", "y": "independent"}}
 }
]
}
